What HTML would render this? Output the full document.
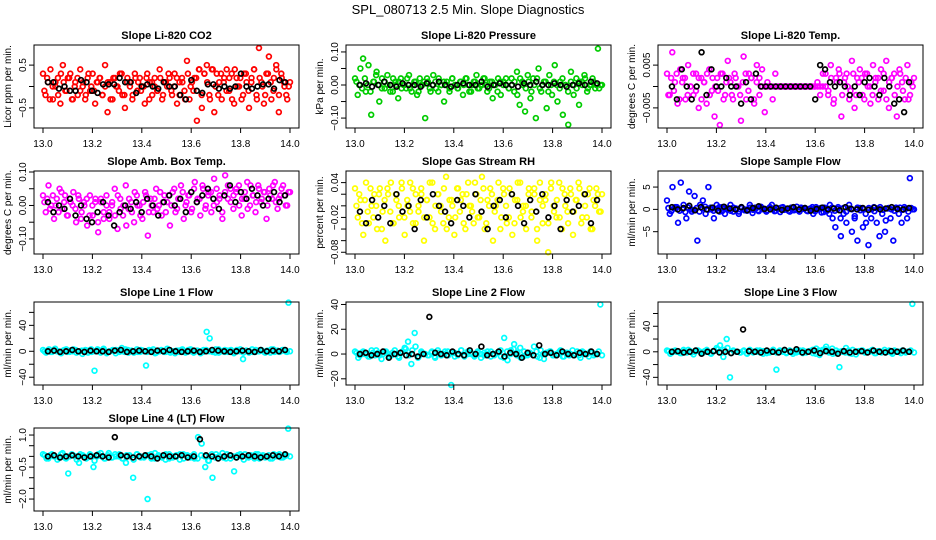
<!DOCTYPE html>
<html><head><meta charset="utf-8"><style>
body{margin:0;background:#fff;}
svg{display:block;font-family:"Liberation Sans",sans-serif;}
</style></head><body>
<svg id="c" width="936" height="540">
<text x="468" y="14" text-anchor="middle" font-size="13">SPL_080713  2.5 Min. Slope Diagnostics</text>
</svg>
<script>
const xTicks=[13.0,13.2,13.4,13.6,13.8,14.0];
const titles=["Slope Li-820 CO2","Slope Li-820 Pressure","Slope Li-820 Temp.","Slope Amb. Box Temp.","Slope Gas Stream RH","Slope Sample Flow","Slope Line 1 Flow","Slope Line 2 Flow","Slope Line 3 Flow","Slope Line 4 (LT) Flow"];
const yLabels=["Licor ppm per min.","kPa per min.","degrees C per min.","degrees C per min.","percent per min.","ml/min per min.","ml/min per min.","ml/min per min.","ml/min per min.","ml/min per min."];
const yTicks=[[-0.5,0,0.5],[-0.10,-0.05,0.00,0.05,0.10],[-0.005,0,0.005],[-0.10,-0.05,0.00,0.05,0.10],[-0.08,-0.06,-0.04,-0.02,0.00,0.02,0.04],[-5,0,5],[-40,-20,0,20,40,60],[-20,0,20,40],[-40,-20,0,20,40,60],[-2.0,-1.5,-1.0,-0.5,0.0,0.5,1.0]];
const yTickText=[["−0.5","","0.5"],["−0.10","","0.00","","0.10"],["−0.005","","0.005"],["−0.10","","0.00","","0.10"],["−0.08","","","−0.02","","","0.04"],["−5","0","5"],["−40","","0","","40",""],["−20","0","20","40"],["−40","","0","","40",""],["−2.0","","","−0.5","","","1.0"]];
const yRanges=[[-0.97,0.97],[-0.13,0.121],[-0.0097,0.0097],[-0.145,0.103],[-0.083,0.06],[-10,8.6],[-52,76],[-25,42],[-52,78],[-2.56,1.33]];
const colors=["#ff0000","#00cc00","#ff00ff","#ff00ff","#ffff00","#0000ff","#00ffff","#00ffff","#00ffff","#00ffff"];
const coloredVals=[
[0.3,-0.2,0.1,0.4,-0.3,0.0,0.2,-0.4,0.5,-0.1,0.2,0.3,-0.3,0.1,-0.2,0.4,0.0,-0.3,0.2,-0.1,0.3,-0.4,0.1,0.2,-0.2,0.5,-0.6,0.1,-0.3,0.2,0.0,0.3,-0.2,-0.5,0.2,0.1,-0.3,0.3,-0.1,0.2,0.0,-0.4,0.3,0.1,-0.2,0.2,-0.1,0.4,-0.3,0.1,0.0,0.2,-0.2,0.3,-0.4,0.1,0.2,-0.1,0.6,-0.3,0.1,0.2,-0.8,0.4,-0.5,0.3,0.5,-0.2,0.4,-0.6,0.3,0.1,-0.3,0.2,0.4,-0.1,0.3,-0.4,0.2,0.0,-0.3,0.3,0.1,-0.5,0.2,0.4,-0.2,0.9,0.1,-0.4,0.3,0.7,-0.3,0.2,0.4,-0.6,0.3,0.1,-0.2,0.0],
[0.02,-0.03,0.05,0.08,-0.02,0.06,-0.09,0.01,0.04,-0.05,0.02,-0.01,0.03,0.0,-0.02,0.01,-0.04,0.02,0.0,-0.01,0.03,-0.02,0.01,-0.03,0.02,0.0,-0.1,0.01,-0.02,0.03,-0.01,0.02,0.0,-0.05,0.01,-0.02,0.02,0.0,-0.01,0.01,-0.03,0.02,0.0,-0.02,0.01,0.03,-0.01,0.0,0.02,-0.02,0.01,-0.04,0.0,0.02,-0.03,0.01,0.0,-0.01,0.02,-0.02,0.04,-0.06,0.01,-0.08,0.03,-0.04,0.02,-0.1,0.05,-0.02,0.01,-0.07,0.03,-0.03,0.06,-0.05,0.01,-0.09,0.0,-0.12,0.04,-0.03,0.02,-0.06,0.01,0.03,-0.02,0.0,0.02,-0.01,0.11,0.0],
[0.003,-0.002,0.008,0.001,-0.004,0.004,0.002,-0.003,0.005,0.0,-0.002,0.003,-0.005,0.002,0.001,-0.004,0.004,-0.001,-0.007,0.002,-0.009,0.003,-0.002,0.006,0.001,-0.003,0.002,0.0,-0.008,0.007,-0.003,0.003,0.002,-0.004,0.005,-0.002,0.004,-0.006,0.001,0.0,-0.003,0.003,0.0,0.0,0.0,0.0,0.0,0.0,0.0,0.0,0.0,0.0,0.0,0.0,0.0,0.0,0.0,0.0,0.0,0.0,0.003,-0.002,0.005,-0.004,0.002,0.004,-0.007,0.001,0.003,-0.003,0.006,-0.005,0.002,0.004,-0.002,0.003,0.0,-0.004,0.005,0.002,-0.003,0.004,-0.001,0.006,-0.005,0.002,0.003,-0.007,0.004,0.001,-0.003,0.005,-0.002,0.0],
[0.03,-0.02,0.06,0.0,-0.04,0.02,0.05,-0.01,0.03,-0.03,0.01,0.04,-0.05,0.02,-0.02,0.0,-0.06,0.03,-0.03,0.02,-0.08,0.01,-0.04,0.03,-0.02,0.0,0.05,-0.07,0.02,-0.03,0.06,-0.01,0.01,-0.05,0.03,0.0,-0.04,0.04,-0.09,0.02,-0.02,0.05,0.0,-0.03,0.03,0.01,-0.06,0.04,-0.02,0.02,0.06,-0.04,0.01,0.03,-0.01,0.07,0.02,-0.03,0.05,0.0,0.04,-0.02,0.08,0.01,0.03,-0.04,0.09,0.02,0.05,-0.01,0.04,0.06,-0.03,0.02,0.07,0.0,0.03,-0.02,0.06,0.01,0.04,-0.04,0.05,0.02,0.07,-0.01,0.03,0.06,0.0,0.04],
[0.03,-0.02,0.01,-0.05,0.04,-0.03,0.0,0.02,-0.04,0.03,-0.01,-0.06,0.02,0.04,-0.03,0.01,-0.02,0.03,-0.05,0.0,0.04,-0.03,0.02,-0.01,0.03,-0.06,0.01,-0.02,0.04,-0.04,0.02,0.0,-0.03,0.05,-0.02,0.01,-0.05,0.03,-0.01,0.02,-0.04,0.04,0.0,-0.03,0.02,-0.02,0.05,-0.04,0.01,0.03,-0.06,0.0,0.04,-0.02,0.02,-0.03,0.03,-0.05,0.01,0.04,-0.02,0.0,-0.04,0.03,-0.01,0.02,-0.06,0.04,-0.03,0.01,-0.08,0.03,0.0,-0.02,0.04,-0.04,0.02,-0.01,0.03,-0.05,0.01,0.04,-0.03,0.02,-0.02,0.03,-0.04,0.0,0.02,-0.01],
[2,-1,5,0.5,-3,6,1,-2,4,-0.5,3,-7,1,2,-1,5,0,-2,1,-0.5,0.5,-1,0.3,1,-0.5,0.2,-1,0.5,0,-0.3,1,-0.8,0.4,-0.2,0.6,0,-0.5,0.3,1,-0.4,0.2,-0.6,0.5,0,-0.3,0.4,-0.2,0.6,-0.5,0.1,0.3,-0.4,0.2,-1,0.5,0,-0.7,0.4,-0.3,1,-2,-4,0.5,-6,-1,-3,1,-5,-2,-7,0.3,-4,-1,-8,-2,0.5,-3,-6,-1,-5,0.2,-2,-7,0.4,-1,-3,0.5,-2,7,0],
[2,-2,3,-1,4,0,-3,2,-1,1,3,-2,0,-4,2,1,-1,-30,3,-2,4,-1,0,2,-3,1,5,-1,2,0,-2,3,-1,1,-22,2,0,-3,1,2,-1,4,-2,0,1,-1,3,-2,2,0,-1,1,-3,2,30,20,-1,3,-2,0,2,-1,1,-3,2,0,-12,1,-2,3,-1,0,2,-1,1,-2,3,0,-1,2,0,75],
[2,-3,1,0,-2,3,-1,1,-4,2,0,-1,3,-2,1,5,10,-8,17,-3,2,0,-1,1,-2,3,-1,0,2,-25,1,-1,3,-2,0,1,-1,2,-3,1,0,2,-1,1,-2,13,-5,3,8,1,-3,2,-1,0,6,-2,3,-4,1,2,-1,0,3,-2,1,0,-1,2,-3,1,0,2,-1,0,40],
[2,-3,1,0,-2,3,-1,1,-4,2,0,-1,3,-2,1,6,10,-8,20,-40,2,0,-1,1,-2,3,-1,0,2,-3,1,-1,3,-28,0,1,-1,2,-3,1,0,2,-1,1,-2,5,-5,3,8,1,-3,2,-24,0,6,-2,3,-4,1,2,-1,0,3,-2,1,0,-1,2,-3,1,0,2,-1,0,75],
[0.1,-0.1,0.05,0.0,-0.15,0.1,-0.05,-0.8,0.1,0.0,-0.3,0.05,-0.1,0.1,-0.5,0.0,0.15,-0.1,0.05,-0.05,0.1,0.0,-0.1,-0.3,0.05,-1.0,0.1,0.0,-0.05,-2.0,0.1,-0.1,0.05,0.0,-0.15,0.1,-0.05,0.0,0.1,-0.1,0.05,0.0,-0.1,0.9,0.6,-0.5,-0.2,-1.0,0.1,0.0,-0.05,0.1,-0.1,-0.7,0.05,0.0,0.1,-0.05,0.0,0.1,-0.1,0.05,0.0,-0.1,0.1,0.05,-0.05,0.0,1.3]
];
const coloredVals2=[
[-0.1,0.2,-0.3,0.0,0.1,-0.2,0.3,0.1,-0.1,0.2,-0.3,0.0,0.2,-0.1,0.1,-0.2,0.3,0.0,-0.1,0.1,0.2,-0.2,0.0,0.1,-0.3,0.2,0.0,-0.1,0.3,-0.2,0.1,0.0,-0.2,0.2,0.1,-0.1,0.0,0.2,-0.3,0.1,0.0,-0.1,0.2,-0.2,0.1,0.3,-0.1,0.0,0.2,-0.2,0.1,-0.3,0.3,0.0,-0.1,0.2,0.4,-0.2,0.3,0.1,-0.3,0.4,0.0,-0.2,0.3,0.1,-0.1,0.2,-0.3,0.4,0.0,0.2,-0.2,0.3,-0.1,0.1,0.4,-0.3,0.2,0.0,-0.2,0.3,0.1,-0.1,0.5,-0.2,0.2,0.0,-0.3,0.1],
[0.01,0.0,-0.01,0.02,0.0,-0.02,0.01,0.03,0.0,-0.01,0.01,0.0,-0.02,0.02,0.0,0.01,-0.01,0.0,0.02,-0.01,0.0,0.01,-0.02,0.0,0.01,0.02,-0.01,0.0,0.01,-0.02,0.0,0.01,0.0,-0.01,0.02,0.0,-0.01,0.01,0.0,0.02,-0.02,0.0,0.01,-0.01,0.0,0.02,0.0,-0.01,0.01,0.0,-0.02,0.01,0.0,0.02,-0.01,0.0,0.01,-0.03,0.02,0.0,-0.01,0.01,-0.02,0.0,0.02,-0.01,0.0,0.01,-0.02,0.0,0.01,0.0,-0.01,0.02,0.0,-0.02,0.01,0.0,-0.01,0.01,0.0,0.02,-0.01,0.0,0.01,0.0,-0.01,0.0],
[-0.002,0.002,-0.001,0.003,-0.003,0.001,0.002,-0.002,0.0,0.003,-0.001,0.002,-0.003,0.001,0.003,-0.002,0.002,0.0,-0.001,0.003,-0.003,0.001,0.002,-0.002,0.003,0.0,-0.002,0.001,0.003,-0.001,0.002,-0.003,0.001,0.002,0.0,0.0,0.0,0.0,0.0,0.0,0.0,0.0,0.0,0.0,0.0,0.0,0.0,0.0,0.0,0.0,0.0,0.0,0.0,0.0,0.001,-0.002,0.003,0.0,-0.001,0.002,-0.003,0.001,0.003,-0.002,0.002,0.0,-0.001,0.003,-0.002,0.001,0.002,-0.003,0.003,0.0,-0.002,0.001,0.002,-0.001,0.003,-0.003,0.001,0.002,-0.002,0.0,0.003,-0.001,0.002,-0.003,0.001,0.002],
[0.01,0.02,-0.01,0.03,0.0,-0.02,0.04,0.01,-0.03,0.02,0.0,-0.01,0.03,-0.04,0.01,0.02,-0.03,0.0,0.01,-0.05,0.02,-0.02,0.0,-0.04,0.01,-0.03,0.03,-0.01,0.0,-0.06,0.02,-0.02,0.04,0.0,-0.03,0.01,0.03,-0.02,0.0,0.02,-0.01,0.04,0.01,-0.02,0.03,0.0,0.05,-0.01,0.02,0.04,0.0,0.03,-0.02,0.05,0.01,0.02,0.06,-0.01,0.03,0.04,0.0,0.05,0.02,-0.02,0.04,0.06,0.01,0.03,0.05,0.0,0.02,0.04,-0.01,0.06,0.03,0.01,0.05,0.02,0.04,0.0,0.03,0.06,0.01,0.02,0.05,0.03,0.0,0.04],
[0.0,0.02,-0.03,0.01,-0.01,0.03,-0.02,0.0,0.02,-0.04,0.01,0.03,-0.01,-0.03,0.02,0.0,0.04,-0.02,0.01,-0.01,0.03,-0.03,0.0,0.02,-0.02,0.01,0.04,-0.03,0.0,0.02,-0.01,0.03,-0.04,0.01,0.0,-0.02,0.03,0.01,-0.03,0.02,0.0,-0.01,0.04,-0.02,0.01,0.03,-0.03,0.0,0.02,-0.01,0.01,-0.04,0.03,0.0,-0.02,0.02,-0.03,0.01,0.04,-0.01,0.0,0.02,-0.02,0.03,-0.04,0.01,0.0,0.02,-0.03,0.04,-0.01,0.01,-0.02,0.03,0.0,-0.03,0.02,-0.01,0.01,0.03,-0.02,0.0,0.02,-0.04,0.01,0.03,-0.01,0.02],
[0.3,-0.4,0.2,0.5,-0.3,0.1,-0.6,0.4,0.0,-0.2,0.3,-0.5,0.2,0.6,-0.1,0.4,-0.3,0.1,0.5,-0.4,0.2,0.0,-0.3,0.4,0.1,-0.5,0.3,-0.2,0.0,0.4,-0.1,0.2,-0.4,0.3,0.1,-0.2,0.5,0.0,-0.3,0.2,0.4,-0.1,0.1,-0.5,0.3,0.0,-0.2,0.4,0.2,-0.3,0.1,0.5,-0.4,0.0,0.3,-0.6,0.2,-1,0.4,-0.3,0.1,-2,0.3,-0.5,0.2,0.0,-1.5,0.4,-0.2,0.1,-3,0.3,0.0,-0.4,0.2,0.5,-0.1,-2.5,0.3,0.0,-0.3,0.2,0.4,-0.1,0.1,-0.5,0.3,0.0],
[0,1,-1,2,0,-2,1,3,-1,0,2,-1,1,0,-2,3,0,1,-1,2,-3,0,1,2,-1,0,3,-2,1,0,-1,2,0,-1,1,3,-2,0,1,-1,2,0,-3,1,2,0,-1,3,-2,1,0,-1,2,0,1,-2,3,0,-1,1,2,-1,0,3,-2,1,0,-1,2,0,1,-2,0,3,-1,1,0,2,-1,0],
[1,-1,2,0,-2,1,3,-1,0,2,-2,1,0,-3,2,4,-1,3,6,-2,1,0,-1,2,-3,1,0,2,-1,1,-2,0,3,-1,2,0,-2,1,0,-1,2,-2,0,1,3,-3,2,0,4,-1,5,-2,0,1,-1,2,-3,0,1,2,-1,0,2,-2,1,-1,3,0,-1,2,0,-2,1,0,2,-1],
[1,-1,2,0,-2,1,3,-1,0,2,-2,1,0,-3,2,4,-1,3,6,-2,1,0,-1,2,-3,1,0,2,-1,1,-2,0,3,-1,2,0,-2,1,0,-1,2,-2,0,1,3,-3,2,0,4,-1,5,-2,0,1,-1,2,-3,0,1,2,-1,0,2,-2,1,-1,3,0,-1,2,0,-2,1,0,2,-1],
[0.05,-0.1,0.1,0.0,-0.05,0.15,-0.1,0.0,0.05,-0.15,0.1,0.0,-0.05,0.05,-0.2,0.1,0.0,-0.1,0.15,-0.05,0.0,0.1,-0.1,0.05,0.0,-0.15,0.1,-0.05,0.0,0.05,-0.1,0.15,0.0,-0.05,0.1,-0.1,0.0,0.05,-0.15,0.1,0.0,-0.05,0.1,-0.1,0.05,0.0,-0.2,0.1,-0.05,0.0,0.15,-0.1,0.05,0.0,-0.05,0.1,-0.15,0.0,0.05,-0.1,0.1,0.0,-0.05,0.05,-0.1,0.0,0.1,-0.05,0.05,0.0]
];
const blackVals=[
[0.1,0.1,-0.05,0.0,-0.1,-0.1,0.15,0.1,-0.1,-0.15,0.05,0.05,0.05,0.2,0.1,0.1,-0.15,0.0,0.05,0.0,-0.05,0.1,0.0,0.0,-0.2,-0.3,0.15,-0.1,-0.15,0.05,0.05,-0.05,0.0,-0.05,0.0,0.3,0.0,-0.05,0.0,0.05,0.05,-0.05,0.15,0.1],
[0.0,0.005,-0.005,0.0,0.01,0.0,-0.005,0.005,0.0,0.0,-0.005,0.005,0.0,0.01,0.0,-0.005,0.0,0.005,0.0,0.0,0.01,-0.005,0.0,0.005,0.0,0.0,-0.005,0.005,0.0,0.01,0.0,0.0,0.005,0.0,-0.005,0.0,0.005,0.0,0.01,0.005],
[0.0,-0.003,0.004,0.0,-0.003,0.0,0.008,-0.002,0.004,0.0,0.0,0.002,0.0,0.0,-0.004,0.001,-0.003,0.003,0.0,0.0,0.0,0.0,0.0,0.0,0.0,0.0,0.0,0.0,0.0,-0.003,0.005,0.004,0.001,0.0,0.001,0.0,-0.002,0.0,-0.002,0.001,0.002,0.0,-0.002,0.002,0.0,-0.004,-0.003,-0.006,0.001],
[0.01,-0.02,0.0,-0.01,0.02,-0.03,0.0,-0.04,-0.05,-0.02,0.01,-0.03,-0.06,-0.02,0.0,-0.01,0.01,-0.02,0.02,0.0,-0.03,0.01,0.03,0.0,0.02,-0.02,0.04,0.01,0.03,0.05,0.02,-0.01,0.03,0.06,0.01,0.04,0.02,0.05,0.03,0.0,0.02,0.04,0.01,0.03],
[-0.01,-0.03,0.01,-0.02,0.0,-0.03,0.02,-0.01,0.0,-0.04,0.01,-0.02,0.02,0.0,-0.01,-0.03,0.01,0.0,-0.02,0.02,-0.01,-0.04,0.0,0.01,-0.02,0.02,0.0,-0.03,0.01,-0.01,0.02,-0.02,0.0,-0.04,0.01,-0.01,0.0,0.02,-0.03,0.01],
[0.5,0,0.3,0.8,-0.2,0.5,0,0.4,-0.3,0.6,0.2,0,0.5,-0.2,0.3,0.7,0.1,0,0.4,-0.1,0.2,0.5,0,0.3,-0.3,0.1,0.4,0,0.2,-0.2,0.5,0.1,0,0.3,-0.1,0.4,0,0.2,0.5,0.1,0,0.3],
[0,1,-1,0,2,0,-1,1,0,0,-1,1,2,-1,0,1,0,-1,1,0,2,0,-1,0,1,-1,0,2,1,0,-1,0,1,0,-1,2,0,1,0,2],
[0,1,-1,0,2,-3,0,1,-1,0,-2,0,30,1,0,-1,2,0,-1,3,0,6,-1,0,2,-2,1,0,-3,1,-1,7,0,1,-1,2,0,-1,1,0,2,0],
[0,1,-1,0,2,-3,0,1,-1,0,-2,0,35,1,0,-1,2,0,-1,3,0,4,-1,0,2,-2,1,0,-3,1,-1,0,1,-1,2,0,-1,1,0,2,0],
[0.0,0.05,-0.05,0.0,0.05,0.0,-0.05,0.0,0.05,0.0,-0.05,0.9,0.05,0.0,-0.05,0.0,0.05,0.0,-0.1,0.05,0.0,0.0,0.05,-0.05,0.0,0.8,0.05,0.0,-0.1,0.0,0.05,-0.05,0.0,0.05,0.0,-0.05,0.0,0.05,0.0,0.1]
];
const NS="http://www.w3.org/2000/svg";
const svg=document.getElementById('c');
function mk(tag,attrs,parent){const e=document.createElementNS(NS,tag);for(const k in attrs)e.setAttribute(k,attrs[k]);(parent||svg).appendChild(e);return e;}
const colX=[34,346,658], boxW=265, rowY=[45,171,302,428], boxH=83;
for(let p=0;p<10;p++){
  const L=colX[p%3], T=rowY[Math.floor(p/3)], R=L+boxW, B=T+boxH;
  const g=mk('g',{});
  
  
  const x0=L+9, x1=R-9;
  const xs=v=>x0+(v-13)*(x1-x0);
  const [ymin,ymax]=yRanges[p];
  const ys=v=>B-(v-ymin)/(ymax-ymin)*boxH;
  const t=mk('text',{x:(L+R)/2,y:T-6,'text-anchor':'middle','font-size':11,'font-weight':'bold'},g);t.textContent=titles[p];
  
  
  const pts=mk('g',{fill:'none','stroke-width':1.7},g);
  
  
  [coloredVals[p],coloredVals2[p]].forEach((cv,k)=>{
    cv.forEach((v,i)=>{const c=mk('circle',{cx:xs(13+(i+0.5*k)/(cv.length-0.5)),cy:ys(v),r:2.4,stroke:colors[p]},pts);
      
      });
  });
  const bv=blackVals[p];
  bv.forEach((v,i)=>{const c=mk('circle',{cx:xs(13+0.02+i/(bv.length-1)*0.96),cy:ys(v),r:2.4,stroke:'#000'},pts);
    
    });
  const box=mk('rect',{x:L,y:T,width:boxW,height:boxH,fill:'none',stroke:'#000','stroke-width':1},g);
  
  
  xTicks.forEach(v=>{mk('line',{x1:xs(v),x2:xs(v),y1:B,y2:B+5,stroke:'#000'},g);
    const tx=mk('text',{x:xs(v),y:B+19,'text-anchor':'middle','font-size':10},g);tx.textContent=v.toFixed(1);
    
    });
  yTicks[p].forEach((v,i)=>{mk('line',{x1:L-5,x2:L,y1:ys(v),y2:ys(v),stroke:'#000'},g);
    if(!yTickText[p][i])return;
    const tx=mk('text',{x:0,y:0,'text-anchor':'middle','font-size':10,transform:`translate(${L-8},${ys(v)}) rotate(-90)`},g);tx.textContent=yTickText[p][i];
    
    });
  const yl=mk('text',{x:0,y:0,'text-anchor':'middle','font-size':10,transform:`translate(${L-23},${(T+B)/2}) rotate(-90)`},g);yl.textContent=yLabels[p];
  
  
}
</script>
</body></html>
